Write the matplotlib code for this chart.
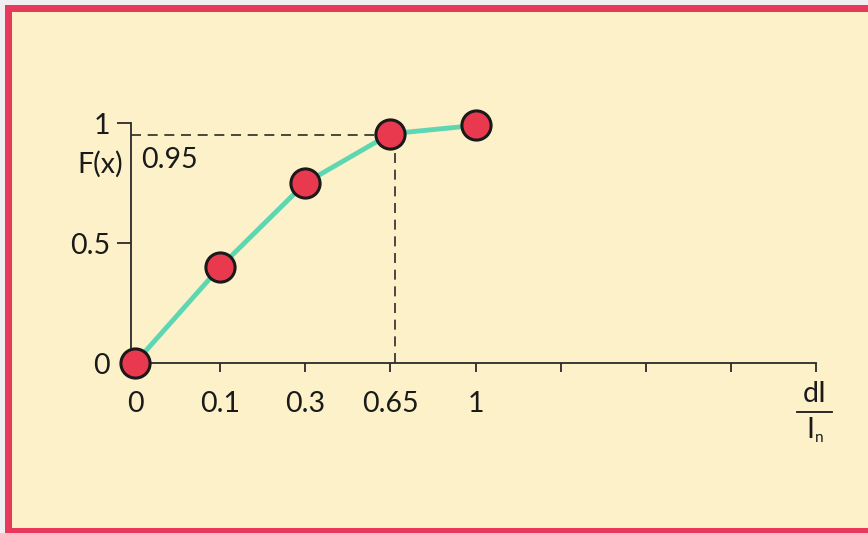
import matplotlib
matplotlib.use("Agg")
import matplotlib.pyplot as plt
from matplotlib.patches import Rectangle
from matplotlib.lines import Line2D

# data
x_labels = ["0", "0.1", "0.3", "0.65", "1"]
f_values = [0.0, 0.40, 0.75, 0.955, 0.99]
n_ticks = 8           # axis continues to 8 equal steps
marked_idx = 3        # the 0.65 / 0.95 point
marked_f = 0.95

W, H = 868, 533
FS = 20.5
plt.rcParams['font.family'] = ['Lato', 'DejaVu Sans']

fig = plt.figure(figsize=(W / 100, H / 100), dpi=100, facecolor="#f1eef2")

def fx(px):
    return px / W

def fy(py):
    return 1 - py / H

# red frame and cream panel
fig.patches.append(Rectangle((fx(5), fy(533)), fx(868) - fx(5), fy(5) - fy(533),
                             transform=fig.transFigure, facecolor="#e8395c",
                             edgecolor="none", zorder=-2))
fig.patches.append(Rectangle((fx(12), fy(528)), fx(868) - fx(12), fy(12) - fy(528),
                             transform=fig.transFigure, facecolor="#fcf1c9",
                             edgecolor="none", zorder=-1))

# axes: x=0 at px 135, x=8 at px 816, y=0 at px 363, y=1 at px 123
unit = (816 - 135) / n_ticks
left_px = 131
x_left = -(135 - left_px) / unit
ax = fig.add_axes([fx(left_px), fy(363), fx(816) - fx(left_px), fy(123) - fy(363)])
ax.set_zorder(1)
ax.set_facecolor("none")
ax.set_xlim(x_left, n_ticks)
ax.set_ylim(0, 1)

for s in ["top", "right"]:
    ax.spines[s].set_visible(False)
for s in ["left", "bottom"]:
    ax.spines[s].set_color("#2a2a2a")
    ax.spines[s].set_linewidth(1.3)

xs = list(range(len(f_values)))
ax.set_xticks(range(1, n_ticks + 1))
ax.set_xticklabels([])
ax.tick_params(axis="x", direction="out", length=6.5, width=1.3, color="#2a2a2a")
for i, lab in enumerate(x_labels):
    ax.text(i, -0.17, lab, ha="center", va="center", fontsize=FS, color="#1a1a1a")

ax.set_yticks([0, 0.5, 1])
ax.set_yticklabels(["0", "0.5", "1"], fontsize=FS, color="#1a1a1a")
ax.tick_params(axis="y", direction="out", length=10, width=1.3, color="#2a2a2a", pad=5)
ax.get_yticklines()[0].set_visible(False)

# dashed guides to the 0.95 point
ax.plot([x_left, marked_idx], [marked_f, marked_f], ls=(0, (6, 4)), color="#2a2a2a", lw=1.2)
ax.plot([marked_idx + 0.05, marked_idx + 0.05], [0, marked_f], ls=(0, (6, 4)),
        color="#2a2a2a", lw=1.2)
ax.text(0.07, 0.845, "0.95", ha="left", va="center", fontsize=FS, color="#1a1a1a")

ax.plot(xs, f_values, color="#5dd6b2", lw=3.5, zorder=3, clip_on=False)
ax.plot(xs, f_values, ls="none", marker="o", ms=21, mfc="#e8394f", mec="#1a1a1a",
        mew=2.2, zorder=4, clip_on=False)

fig.text(fx(100), fy(164), "F(x)", ha="center", va="center", fontsize=FS, color="#1a1a1a")

# dI / In label
fig.text(fx(815), fy(394), "dI", ha="center", va="center", fontsize=FS, color="#1a1a1a")
fig.lines.append(Line2D([fx(797), fx(832)], [fy(412), fy(412)], transform=fig.transFigure,
                        color="#1a1a1a", lw=1.3))
fig.text(fx(810), fy(430), "I", ha="center", va="center", fontsize=FS, color="#1a1a1a")
fig.text(fx(819), fy(438), "n", ha="center", va="center", fontsize=11, color="#1a1a1a")

fig.savefig("out.png", dpi=100, facecolor=fig.get_facecolor())
